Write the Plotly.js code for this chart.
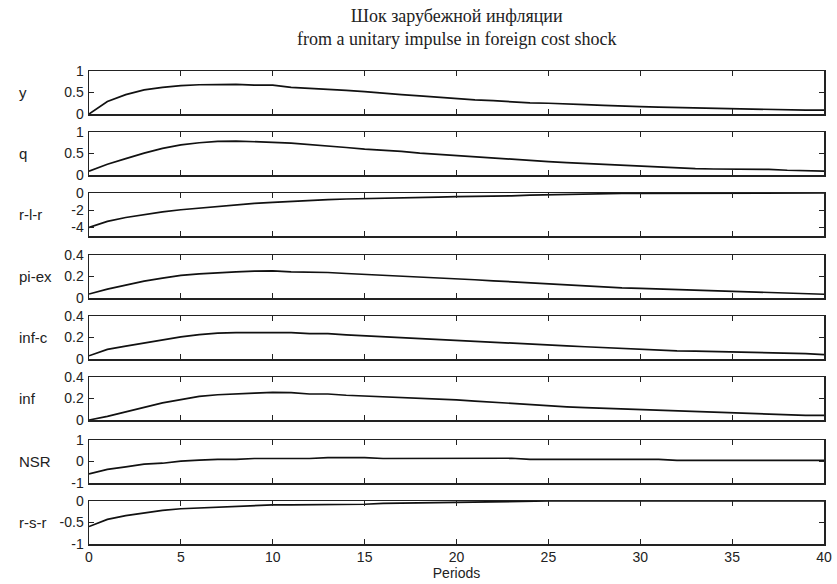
<!DOCTYPE html>
<html>
<head>
<meta charset="utf-8">
<script src="https://cdn.plot.ly/plotly-3.0.1.min.js"></script>
<style>html,body{margin:0;padding:0;background:#fff;}#chart{width:837px;height:584px;}</style>
</head>
<body>
<div id="chart"></div>
<script>
const periods = Array.from({length: 41}, (_, i) => i);

const labels = ["y", "q", "r-l-r", "pi-ex", "inf-c", "inf", "NSR", "r-s-r"];

const yVals = [0, 0.29, 0.45, 0.56, 0.62, 0.66, 0.68, 0.69, 0.69, 0.67, 0.67, 0.62, 0.60, 0.58, 0.55, 0.52, 0.48, 0.45, 0.42, 0.39, 0.35, 0.33, 0.31, 0.28, 0.26, 0.25, 0.24, 0.22, 0.20, 0.18, 0.17, 0.16, 0.15, 0.14, 0.13, 0.12, 0.115, 0.11, 0.09, 0.09, 0.09];
const qVals = [0.09, 0.25, 0.38, 0.51, 0.62, 0.70, 0.75, 0.78, 0.79, 0.78, 0.76, 0.74, 0.71, 0.67, 0.64, 0.60, 0.58, 0.55, 0.51, 0.48, 0.45, 0.42, 0.39, 0.36, 0.33, 0.31, 0.29, 0.27, 0.25, 0.22, 0.20, 0.19, 0.17, 0.15, 0.14, 0.14, 0.13, 0.13, 0.11, 0.10, 0.09];
const rlrVals = [-4.0, -3.3, -2.85, -2.5, -2.2, -1.95, -1.75, -1.55, -1.35, -1.2, -1.08, -0.95, -0.85, -0.76, -0.7, -0.64, -0.6, -0.55, -0.52, -0.47, -0.43, -0.41, -0.39, -0.33, -0.25, -0.2, -0.15, -0.1, -0.08, -0.05, -0.04, -0.03, -0.02, -0.01, 0, 0, 0, 0, 0, 0, 0];
const piexVals = [0.037, 0.083, 0.12, 0.157, 0.185, 0.21, 0.225, 0.237, 0.243, 0.25, 0.252, 0.243, 0.243, 0.237, 0.228, 0.22, 0.212, 0.203, 0.2, 0.19, 0.18, 0.17, 0.16, 0.15, 0.14, 0.13, 0.12, 0.11, 0.10, 0.095, 0.09, 0.085, 0.08, 0.075, 0.07, 0.06, 0.055, 0.05, 0.05, 0.045, 0.035];
const infcVals = [0.03, 0.09, 0.12, 0.15, 0.18, 0.206, 0.227, 0.24, 0.245, 0.245, 0.245, 0.245, 0.236, 0.236, 0.224, 0.215, 0.206, 0.197, 0.19, 0.182, 0.173, 0.165, 0.157, 0.148, 0.14, 0.13, 0.122, 0.114, 0.106, 0.1, 0.094, 0.085, 0.076, 0.073, 0.07, 0.067, 0.063, 0.06, 0.055, 0.05, 0.04];
const infVals = [0, 0.034, 0.076, 0.12, 0.16, 0.19, 0.22, 0.235, 0.245, 0.25, 0.257, 0.254, 0.242, 0.242, 0.23, 0.224, 0.215, 0.206, 0.2, 0.193, 0.187, 0.176, 0.164, 0.152, 0.141, 0.13, 0.123, 0.116, 0.11, 0.104, 0.098, 0.09, 0.083, 0.076, 0.07, 0.064, 0.06, 0.055, 0.046, 0.043, 0.043];
const nsrVals = [-0.58, -0.37, -0.25, -0.12, -0.08, 0.02, 0.06, 0.1, 0.1, 0.14, 0.14, 0.14, 0.14, 0.18, 0.18, 0.18, 0.14, 0.14, 0.15, 0.15, 0.15, 0.15, 0.15, 0.15, 0.1, 0.1, 0.1, 0.1, 0.1, 0.1, 0.1, 0.1, 0.05, 0.05, 0.05, 0.05, 0.05, 0.05, 0.05, 0.05, 0.05];
const rsrVals = [-0.595, -0.427, -0.34, -0.275, -0.22, -0.18, -0.16, -0.145, -0.137, -0.115, -0.09, -0.09, -0.09, -0.076, -0.076, -0.076, -0.053, -0.046, -0.04, -0.035, -0.03, -0.02, -0.01, -0.005, 0, 0, 0, 0, 0, 0, 0, 0, 0, 0, 0, 0, 0, 0, 0, 0, 0];

const series = [yVals, qVals, rlrVals, piexVals, infcVals, infVals, nsrVals, rsrVals];

const yRanges = [[0, 1], [0, 1], [-5, 0], [0, 0.4], [0, 0.4], [0, 0.4], [-1, 1], [-1, 0]];
const yTickVals = [[0, 0.5, 1], [0, 0.5, 1], [-4, -2, 0], [0, 0.2, 0.4], [0, 0.2, 0.4], [0, 0.2, 0.4], [-1, 0, 1], [-1, -0.5, 0]];
const yTickText = [["0", "0.5", "1"], ["0", "0.5", "1"], ["-4", "-2", "0"], ["0", "0.2", "0.4"], ["0", "0.2", "0.4"], ["0", "0.2", "0.4"], ["-1", "0", "1"], ["-1", "-0.5", "0"]];
const xTickVals = [0, 5, 10, 15, 20, 25, 30, 35, 40];

const mainTitle = "Шок зарубежной инфляции<br>from a unitary impulse in foreign cost shock";
const xTitle = "Periods";

// layout geometry (pixels)
const W = 837, H = 584;
const mT = 71, mB = 40, mL = 89, mR = 13;
const panelTops = [71, 132, 193, 255, 316, 377, 440, 501];
const panelH = 43;
const plotH = H - mT - mB;

const traces = [];
const layout = {
  width: W, height: H,
  margin: {l: mL, r: mR, t: mT, b: mB},
  paper_bgcolor: "#fff", plot_bgcolor: "#fff",
  showlegend: false,
  font: {family: "Liberation Sans, Arial, sans-serif", size: 14, color: "#222"},
  annotations: [{
    text: mainTitle, xref: "paper", yref: "paper",
    x: 0.5, xanchor: "center", y: (H - mB - 4) / plotH, yanchor: "top",
    showarrow: false, align: "center",
    font: {family: "Liberation Serif, Times New Roman, serif", size: 18, color: "#222"}
  }]
};

for (let i = 0; i < 8; i++) {
  const n = i + 1;
  const xa = n === 1 ? "x" : "x" + n;
  const ya = n === 1 ? "y" : "y" + n;
  traces.push({
    x: periods, y: series[i], xaxis: xa, yaxis: ya,
    type: "scatter", mode: "lines",
    line: {color: "#111", width: 1.7}, hoverinfo: "skip"
  });
  const top = panelTops[i], bot = top + panelH;
  const d0 = (H - mB - bot) / plotH, d1 = (H - mB - top) / plotH;
  const last = i === 7;
  layout["xaxis" + (n === 1 ? "" : n)] = {
    anchor: ya, domain: [0, 1], range: [0, 40],
    tickvals: xTickVals, ticks: "inside", ticklen: 5, tickwidth: 1, tickcolor: "#222",
    showline: true, linecolor: "#222", linewidth: 1.5, mirror: "ticks",
    showgrid: false, zeroline: false, fixedrange: true,
    showticklabels: last,
    tickfont: {size: 14, color: "#222"},
    title: last ? {text: xTitle, font: {size: 14, color: "#222"}, standoff: 4} : {text: ""}
  };
  layout["yaxis" + (n === 1 ? "" : n)] = {
    anchor: xa, domain: [d0, d1], range: yRanges[i],
    tickvals: yTickVals[i], ticktext: yTickText[i],
    ticks: "inside", ticklen: 5, tickwidth: 1, tickcolor: "#222",
    showline: true, linecolor: "#222", linewidth: 1.5, mirror: "ticks",
    showgrid: false, zeroline: false, fixedrange: true,
    tickfont: {size: 14, color: "#222"}, ticklabelstandoff: 1
  };
  layout.annotations.push({
    text: labels[i], xref: "paper", yref: "paper",
    x: (17 - mL) / (W - mL - mR), xanchor: "left",
    y: (d0 + d1) / 2, yanchor: "middle",
    showarrow: false, font: {size: 15, color: "#222"}
  });
}

Plotly.newPlot("chart", traces, layout, {displayModeBar: false, staticPlot: true});
</script>
</body>
</html>
